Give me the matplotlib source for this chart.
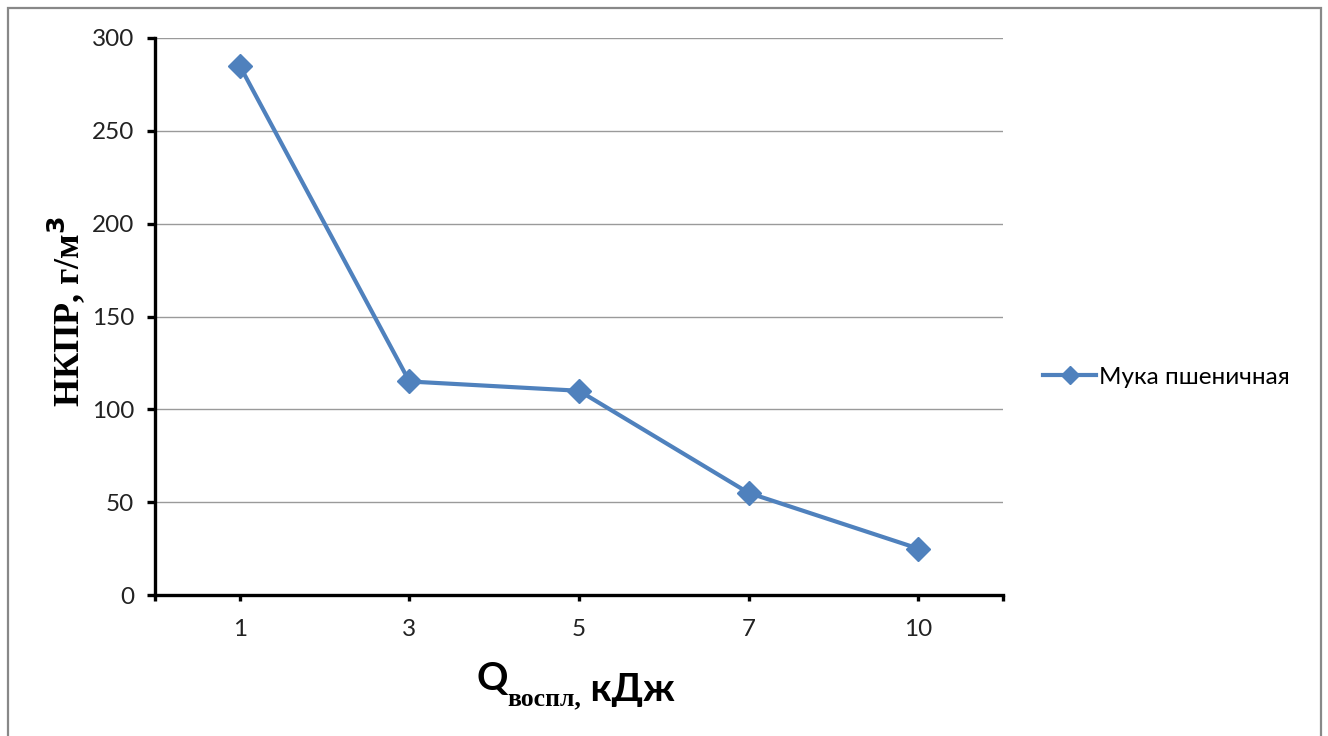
import numpy as np
import matplotlib.pyplot as plt
from matplotlib.patches import Rectangle

# энергия источника воспламенения, кДж и НКПР муки, г/м3
energy = ['1', '3', '5', '7', '10']
nkpr = [285, 115, 110, 55, 25]
series_name = 'Мука пшеничная'

sans = ['Lato', 'DejaVu Sans']
serif = ['Liberation Serif', 'DejaVu Serif']
blue = '#4f81bd'

W, H = 1328, 736
fig = plt.figure(figsize=(W / 100, H / 100), dpi=100)
fig.patch.set_facecolor('white')

# серая рамка вокруг всей диаграммы
fig.patches.append(Rectangle((8 / W, -0.01), (1321 - 8) / W, (H - 8) / H + 0.01,
                             transform=fig.transFigure, fill=False,
                             edgecolor='#888888', linewidth=1.6))

ax = fig.add_axes([155 / W, (H - 595) / H, 848 / W, 557 / H])
x = np.arange(len(energy))
ax.plot(x, nkpr, color=blue, linewidth=3, marker='D', markersize=12.5,
        label=series_name, zorder=3)

ax.set_xlim(-0.5, len(energy) - 0.5)
ax.set_ylim(0, 300)
ax.set_yticks(np.arange(0, 301, 50))
ax.set_xticks(x)
ax.set_xticklabels(energy)
ax.set_xticks([-0.5, len(energy) - 0.5], minor=True)
ax.grid(axis='y', color='#9a9a9a', linewidth=1)
ax.set_axisbelow(True)

for s in ['top', 'right']:
    ax.spines[s].set_visible(False)
for s in ['left', 'bottom']:
    ax.spines[s].set_linewidth(2.4)
    ax.spines[s].set_color('black')

ax.tick_params(axis='y', length=6, width=2.4, pad=9, labelsize=17.5)
ax.tick_params(axis='x', which='both', length=4, width=2.4, pad=13, labelsize=17.5)
for lab in ax.get_xticklabels() + ax.get_yticklabels():
    lab.set_family(sans)
    lab.set_color('#222222')

# подпись оси Y
fig.text(66 / W, 1 - 311 / H, 'НКПР, г/м$^\\mathbf{3}$', rotation=90, ha='center',
         va='center', fontsize=26, fontweight='bold', family=serif)

# подпись оси X из трёх частей
t1 = fig.text(476 / W, 1 - 690 / H, 'Q', fontsize=28, fontweight='bold',
              family=sans, ha='left', va='baseline')
t2 = ax.annotate('воспл,', xy=(1, 0), xycoords=t1, xytext=(0, -6.5),
                 textcoords='offset points', fontsize=18.5, fontweight='bold',
                 family=serif, ha='left', va='baseline', annotation_clip=False)
ax.annotate(' кДж', xy=(1, 0), xycoords=t2, xytext=(0, 6.5),
            textcoords='offset points', fontsize=28, fontweight='bold',
            family=sans, ha='left', va='baseline', annotation_clip=False)

leg = fig.legend(loc='center left', bbox_to_anchor=(1043 / W, 1 - 377 / H),
                 frameon=False, handlelength=2.2, handletextpad=0.1,
                 borderaxespad=0, borderpad=0, markerscale=0.72,
                 prop={'family': sans, 'size': 17.5})

fig.savefig('out.png', dpi=100)
